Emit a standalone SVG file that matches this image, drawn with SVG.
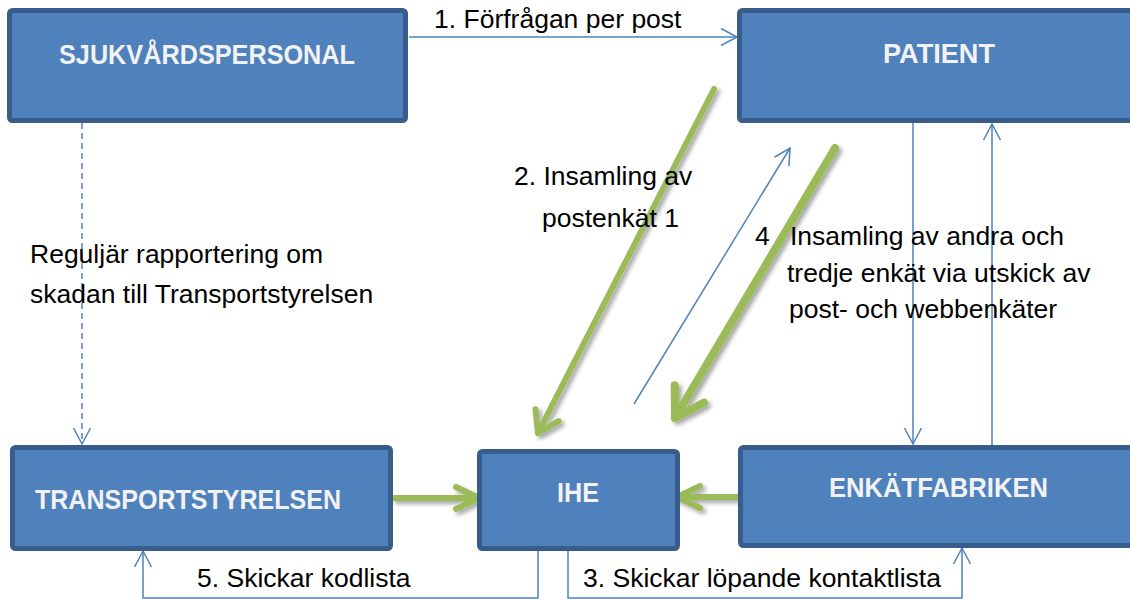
<svg xmlns="http://www.w3.org/2000/svg" width="1130" height="599" viewBox="0 0 1130 599">
<style>
.box{fill:#4F81BD;stroke:#385D8A;stroke-width:5}
.lbl{font-family:"Liberation Sans",Arial,sans-serif;font-weight:bold;font-size:28px;fill:#F2F2F2}
.txt{font-family:"Liberation Sans",Arial,sans-serif;font-size:26.5px;fill:#000}
.con{fill:none;stroke:#4F81BD;stroke-width:1.5}
.dash{stroke-dasharray:6 4}
.green{fill:none;stroke:#9BBB59;stroke-linecap:round;stroke-linejoin:round}
</style>
<defs>
<marker id="open" viewBox="0 0 20 20" markerWidth="20" markerHeight="20" refX="17" refY="10" orient="auto" markerUnits="userSpaceOnUse">
<path d="M1,1.5 L17,10 L1,18.5" fill="none" stroke="#4F81BD" stroke-width="1.5"/>
</marker>
<filter id="shadow" x="-20%" y="-20%" width="140%" height="140%">
<feDropShadow dx="3" dy="3" stdDeviation="2" flood-color="#000" flood-opacity="0.35"/>
</filter>
</defs>
<rect width="1130" height="599" fill="#fff"/>

<g id="connectors">
<path class="con" d="M409,37 H737" marker-end="url(#open)"/>
<path class="con dash" d="M82,123 V444" marker-end="url(#open)"/>
<path class="con" d="M913,123 V444" marker-end="url(#open)"/>
<path class="con" d="M992,445 V124" marker-end="url(#open)"/>
<path class="con" d="M538,551 V598 H143 V551" marker-end="url(#open)"/>
<path class="con" d="M568,551 V598 H962 V548" marker-end="url(#open)"/>
<path class="con" d="M634,404 L790,148" marker-end="url(#open)"/>
<g filter="url(#shadow)">
<g class="green" stroke-width="6">
<path d="M714,89 L538,433"/>
<path d="M535.5,409.3 L538,433 L558.7,421.1"/>
</g>
<g class="green" stroke-width="8">
<path d="M835,148 L675,418"/>
<path d="M674.7,385.2 L675,418 L703.9,402.6"/>
</g>
<g class="green" stroke-width="6">
<path d="M394,498 H479"/>
<path d="M456,487 L479,498 L456,509"/>
</g>
<g class="green" stroke-width="6">
<path d="M738,497 H677"/>
<path d="M700,486 L677,497 L700,508"/>
</g>
</g>
</g>

<g id="sjukvardspersonal">
<rect class="box" x="9.5" y="10.5" width="396" height="110" rx="3"/>
<text class="lbl" x="59" y="64" textLength="296" lengthAdjust="spacingAndGlyphs">SJUKVÅRDSPERSONAL</text>
</g>
<g id="patient">
<rect class="box" x="739.5" y="10.5" width="400" height="110" rx="3"/>
<text class="lbl" x="883" y="63" textLength="112" lengthAdjust="spacingAndGlyphs">PATIENT</text>
</g>
<g id="transportstyrelsen">
<rect class="box" x="12.5" y="447.5" width="378" height="101" rx="3"/>
<text class="lbl" x="35" y="509" textLength="306" lengthAdjust="spacingAndGlyphs">TRANSPORTSTYRELSEN</text>
</g>
<g id="ihe">
<rect class="box" x="479.5" y="451.5" width="198" height="97" rx="3"/>
<text class="lbl" x="557" y="502" textLength="42" lengthAdjust="spacingAndGlyphs">IHE</text>
</g>
<g id="enkatfabriken">
<rect class="box" x="740.5" y="447.5" width="400" height="98" rx="3"/>
<text class="lbl" x="829" y="497" textLength="219" lengthAdjust="spacingAndGlyphs">ENKÄTFABRIKEN</text>
</g>

<g id="labels">
<text class="txt" x="434" y="28">1. Förfrågan per post</text>
<text class="txt" x="514" y="185">2. Insamling av</text>
<text class="txt" x="542" y="227">postenkät 1</text>
<text class="txt" x="30" y="263">Reguljär rapportering om</text>
<text class="txt" x="30" y="303">skadan till Transportstyrelsen</text>
<text class="txt" x="755" y="245">4</text>
<text class="txt" x="790" y="245">Insamling av andra och</text>
<text class="txt" x="787" y="282">tredje enkät via utskick av</text>
<text class="txt" x="789" y="318">post- och webbenkäter</text>
<text class="txt" x="197" y="587">5. Skickar kodlista</text>
<text class="txt" x="583" y="587">3. Skickar löpande kontaktlista</text>
</g>
</svg>
